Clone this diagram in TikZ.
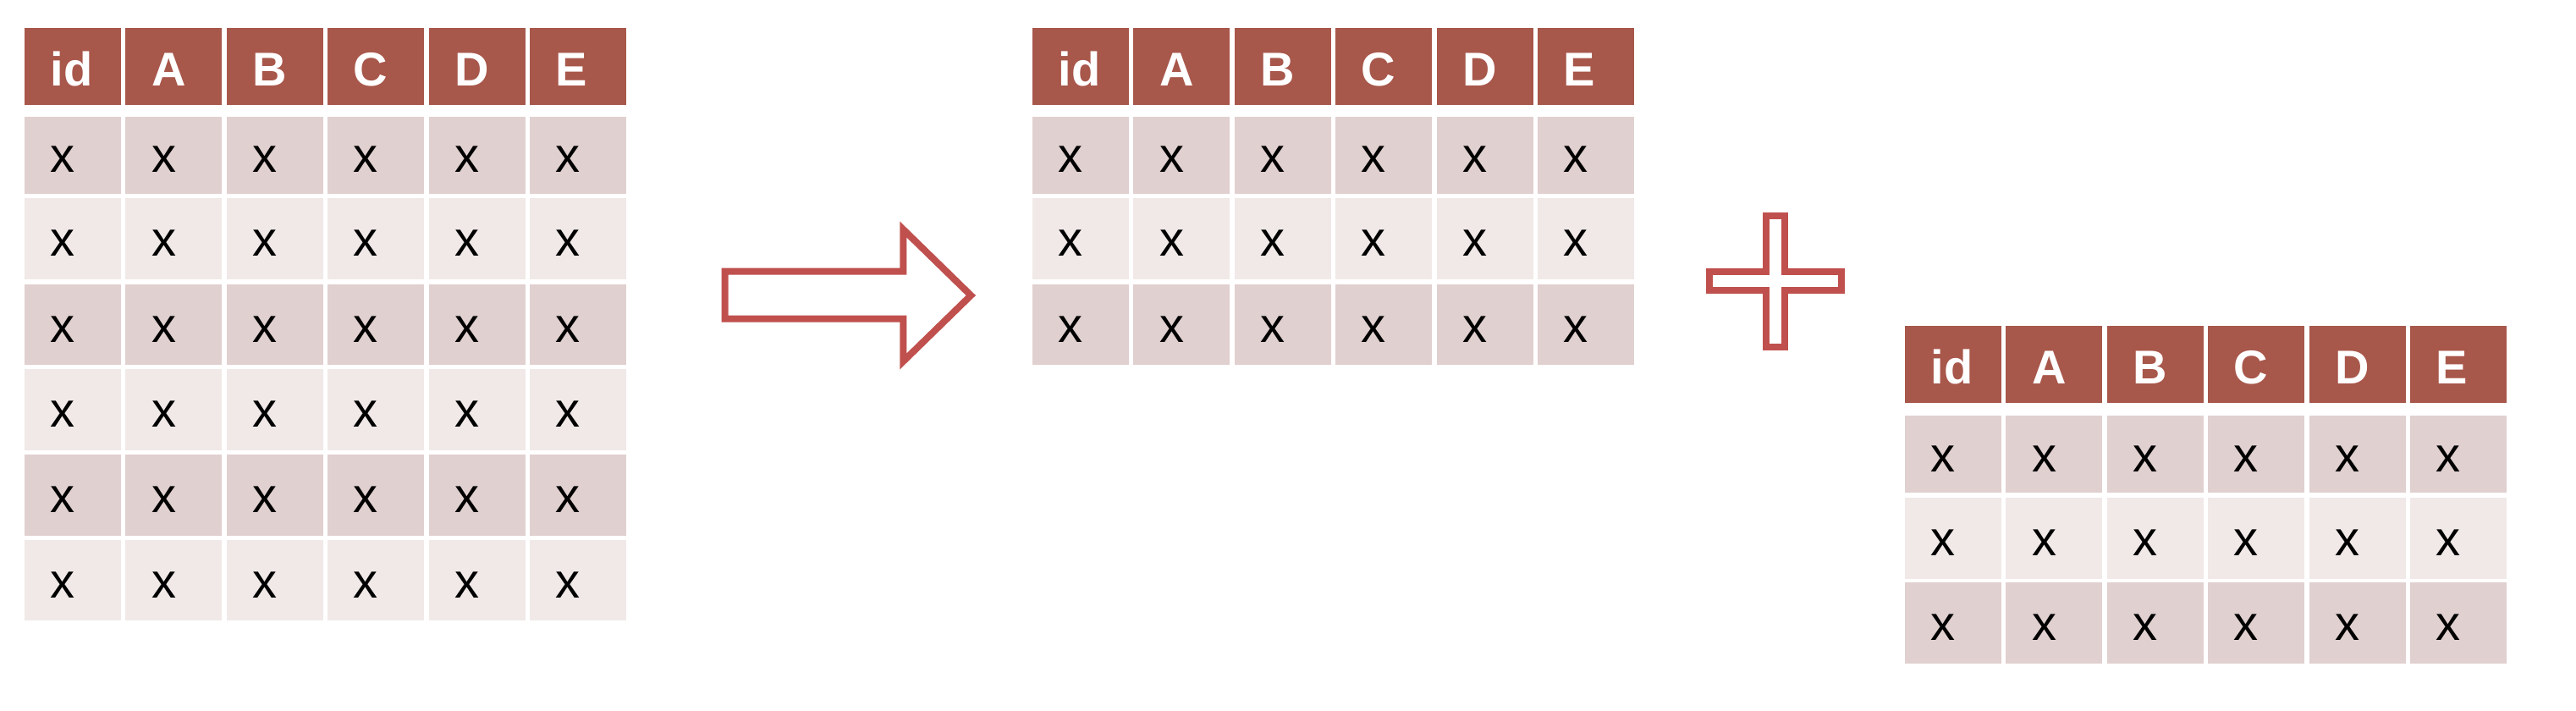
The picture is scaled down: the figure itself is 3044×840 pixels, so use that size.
\documentclass[tikz,border=0pt]{standalone}
\usepackage{fontspec}
\setmainfont{Liberation Sans}
\definecolor{hdr}{HTML}{A8574B}
\definecolor{rowdark}{HTML}{E0D0CF}
\definecolor{rowlight}{HTML}{F0E9E8}
\definecolor{shapered}{HTML}{C0504D}
\tikzset{
  cellbox/.style={rectangle, inner sep=0pt, outer sep=0pt, anchor=north west, minimum width=114pt},
  hdrtext/.style={anchor=base west, inner sep=0pt, text=white, font=\fontsize{56}{60}\selectfont\bfseries},
  celltext/.style={anchor=base west, inner sep=0pt, text=black, font=\fontsize{58}{60}\selectfont},
  outlineshape/.style={draw=shapered, line width=8pt, fill=white, line join=miter},
}
% #1 name, #2 x0, #3 y0, #4 list of rows offset/height/colour
\newcommand{\drawdatatable}[4]{%
  \foreach \lab [count=\c from 0] in {id,A,B,C,D,E} {
    \node[cellbox, fill=hdr, minimum height=91pt] (#1-h\c) at ({#2+\c*119.4},{#3}) {};
    \node[hdrtext] (#1-h\c-t) at ({#2+\c*119.4+30.5},{#3+45.5+23.2}) {\lab};
  }
  \foreach \off/\h/\fc [count=\ri] in {#4} {
    \foreach \c in {0,...,5} {
      \node[cellbox, fill=\fc, minimum height=\h pt] (#1-r\ri-c\c) at ({#2+\c*119.4},{#3+\off}) {};
      \node[celltext] (#1-r\ri-c\c-t) at ({#2+\c*119.4+30.5},{#3+\off+\h/2+20.5}) {x};
    }
  }
}
\begin{document}
\begin{tikzpicture}[x=1pt,y=-1pt]
  \useasboundingbox (0,0) rectangle (3044,840);
  \fill[white] (0,0) rectangle (3044,840);
  % left table
  \drawdatatable{L}{29}{33}{105/91/rowdark,201/96/rowlight,303/95/rowdark,403/96/rowlight,504/96/rowdark,605/95/rowlight}
  % middle table
  \drawdatatable{M}{1220}{33}{105/91/rowdark,201/96/rowlight,303/95/rowdark}
  % right table
  \drawdatatable{R}{2251}{385}{106/91/rowdark,203/96/rowlight,303/96/rowdark}
  % block arrow
  \draw[outlineshape] (856.7,320.7) -- (1067.3,320.7) -- (1067.3,271) -- (1147.3,349)
     -- (1067.3,427) -- (1067.3,376.7) -- (856.7,376.7) -- cycle;
  % plus sign
  \draw[outlineshape] (2087,255) -- (2109,255) -- (2109,321) -- (2176,321) -- (2176,343)
     -- (2109,343) -- (2109,410) -- (2087,410) -- (2087,343) -- (2020,343) -- (2020,321)
     -- (2087,321) -- cycle;
\end{tikzpicture}
\end{document}
